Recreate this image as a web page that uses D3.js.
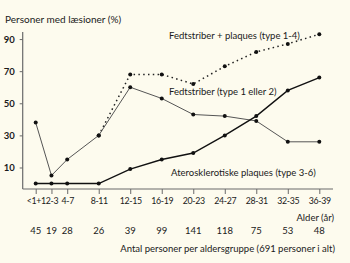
<!DOCTYPE html>
<html>
<head>
<meta charset="utf-8">
<script src="https://cdn.jsdelivr.net/npm/d3@7"></script>
<style>
  html, body { margin: 0; padding: 0; background: #fdfbee; }
  svg { display: block; font-family: Lato, 'Open Sans', sans-serif; }
</style>
</head>
<body>
<div class="chart"></div>
<script>
const ageGroups = ['<1+1', '2-3', '4-7', '8-11', '12-15', '16-19', '20-23', '24-27', '28-31', '32-35', '36-39'];
const personCounts = [45, 19, 28, 26, 39, 99, 141, 118, 75, 53, 48];

// % med læsioner
const fedtOgPlaques = [38, 5, 15, 30, 68, 68, 62, 73, 82, 87, 93];
const fedtstriber = [38, 5, 15, 30, 60, 53, 43, 42, 39, 26, 26];
const aterosklerose = [0, 0, 0, 0, 9, 15, 19, 30, 42, 58, 66];

const yTicks = [10, 30, 50, 70, 90];

const width = 350;
const height = 263;

const svg = d3
  .select('.chart')
  .append('svg')
  .attr('width', width)
  .attr('height', height);

// the first three age groups sit at half spacing
const slot = (i) => (i < 3 ? i / 2 : i - 1);
const slotScale = d3.scaleLinear().domain([0, 9]).range([35.7, 319.3]);
const xScale = d3
  .scaleOrdinal()
  .domain(ageGroups)
  .range(ageGroups.map((d, i) => slotScale(slot(i))));

const yScale = d3.scaleLinear().domain([-3.4, 94.4]).range([189, 32]);

const axisColor = '#6a6a6a';
const textColor = '#1a1a1a';

// y axis
svg
  .append('line')
  .attr('x1', 22.7)
  .attr('x2', 22.7)
  .attr('y1', yScale(94.4))
  .attr('y2', yScale(-3.4))
  .attr('stroke', axisColor)
  .attr('stroke-width', 1.2);

const yAxis = svg
  .append('g')
  .attr('transform', 'translate(22.7, 0)')
  .call(d3.axisLeft(yScale).tickValues(yTicks).tickSize(3).tickPadding(5));
yAxis.select('.domain').remove();
yAxis.selectAll('line').attr('stroke', axisColor);
yAxis
  .selectAll('text')
  .attr('fill', textColor)
  .style('font-family', 'Lato, sans-serif')
  .style('font-size', '9.5px')
  .style('font-weight', 'bold');

// x axis
svg
  .append('line')
  .attr('x1', 22.7)
  .attr('x2', 333)
  .attr('y1', 189)
  .attr('y2', 189)
  .attr('stroke', axisColor)
  .attr('stroke-width', 1.2);

const xAxis = svg
  .append('g')
  .attr('transform', 'translate(0, 189)')
  .call(d3.axisBottom(xScale).tickSize(5).tickPadding(4));
xAxis.select('.domain').remove();
xAxis.selectAll('line').attr('stroke', axisColor);
xAxis
  .selectAll('text')
  .attr('fill', textColor)
  .style('font-family', 'Lato, sans-serif')
  .style('font-size', '8.8px')
  .style('letter-spacing', '-0.35px');

// counts per age group
svg
  .append('g')
  .selectAll('text')
  .data(personCounts)
  .enter()
  .append('text')
  .attr('x', (d, i) => xScale(ageGroups[i]))
  .attr('y', 234)
  .attr('text-anchor', 'middle')
  .attr('fill', textColor)
  .style('font-size', '9.5px')
  .text((d) => d);

const addLine = (values, opts) => {
  const from = opts.from || 0;
  const line = d3
    .line()
    .defined((d, i) => i >= from)
    .x((d, i) => xScale(ageGroups[i]))
    .y((d) => yScale(d));

  svg
    .append('path')
    .datum(values)
    .attr('d', line)
    .attr('fill', 'none')
    .attr('stroke', opts.color)
    .attr('stroke-width', opts.width)
    .attr('stroke-dasharray', opts.dash || null);

  svg
    .append('g')
    .selectAll('circle')
    .data(values.slice(from))
    .enter()
    .append('circle')
    .attr('cx', (d, i) => xScale(ageGroups[i + from]))
    .attr('cy', (d) => yScale(d))
    .attr('r', 2)
    .attr('fill', '#111');
};

addLine(fedtOgPlaques, { color: '#222', width: 1.5, dash: '1.5,3.3', from: 3 });
addLine(fedtstriber, { color: '#555', width: 1 });
addLine(aterosklerose, { color: '#111', width: 1.4 });

const addText = (x, y, txt, anchor, size) => {
  svg
    .append('text')
    .attr('x', x)
    .attr('y', y)
    .attr('text-anchor', anchor || 'start')
    .attr('fill', textColor)
    .style('font-size', (size || 9.5) + 'px')
    .text(txt);
};

addText(5, 23, 'Personer med læsioner (%)', 'start', 10);
addText(169, 39, 'Fedtstriber + plaques (type 1-4)');
addText(169, 95, 'Fedtstriber (type 1 eller 2)');
addText(171, 176, 'Aterosklerotiske plaques (type 3-6)');
addText(334, 221, 'Alder (år)', 'end');
addText(335, 252, 'Antal personer per aldersgruppe (691 personer i alt)', 'end');
</script>
</body>
</html>
